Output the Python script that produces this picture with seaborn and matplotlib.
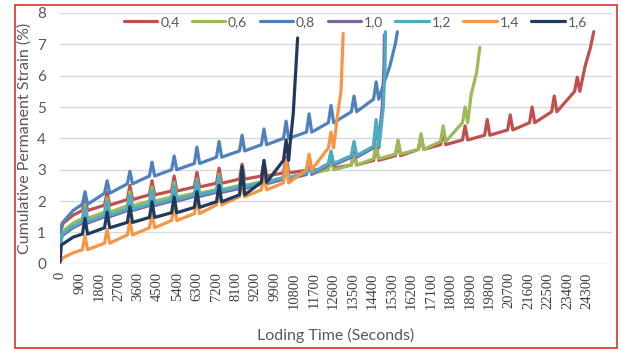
import numpy as np
import pandas as pd
import matplotlib
matplotlib.use("Agg")
import matplotlib.pyplot as plt
import seaborn as sns
from matplotlib.patches import Rectangle

# spike (load pulse) times in seconds
spike_t = [1150, 2170, 3220, 4240, 5260, 6310, 7330, 8390, 9400, 10420, 11480, 12490,
           13550, 14570, 15580, 16640, 17660, 18670, 19690, 20750, 21760, 22780, 23840]

labels = ["0,4", "0,6", "0,8", "1,0", "1,2", "1,4", "1,6"]
colors = ["#C0504D", "#9BBB59", "#4F81BD", "#8064A2", "#4BACC6", "#F79646", "#203A5E"]

# ---- 0.4 ----
s04_start = [(0, 1.0), (150, 1.3), (600, 1.55)]
s04_base = [1.7, 1.87, 2.05, 2.2, 2.32, 2.45, 2.57, 2.7, 2.8, 2.9, 2.98, 3.05, 3.15, 3.3,
            3.45, 3.65, 3.8, 3.95, 4.1, 4.27, 4.5, 4.85, 5.5]
s04_peak = [2.1, 2.28, 2.5, 2.65, 2.8, 2.92, 3.05, 3.18, 3.25, 3.4, 3.4, 3.5, 3.6, 3.75,
            3.9, 4.1, 4.25, 4.4, 4.6, 4.75, 5.0, 5.35, 5.95]
s04_end = [(24200, 6.3), (24450, 6.9), (24600, 7.4)]

# ---- 0.6 ----
s06_start = [(0, 0.75), (150, 1.05), (600, 1.3)]
s06_base = [1.45, 1.65, 1.85, 2.0, 2.13, 2.25, 2.37, 2.5, 2.62, 2.75, 2.88, 3.0, 3.15, 3.35,
            3.5, 3.65, 3.9, 4.5]
s06_peak = [1.9, 2.1, 2.3, 2.45, 2.6, 2.7, 2.85, 2.95, 3.05, 3.2, 3.3, 3.45, 3.6, 3.8,
            3.95, 4.15, 4.4, 5.0]
s06_end = [(18950, 5.4), (19200, 6.1), (19350, 6.9)]

# ---- 0.8 ----
s08_start = [(0, 1.0), (100, 1.3), (600, 1.7)]
s08_base = [1.9, 2.25, 2.55, 2.8, 3.0, 3.2, 3.4, 3.6, 3.8, 4.0, 4.2, 4.5, 4.85, 5.25]
s08_peak = [2.3, 2.65, 2.95, 3.24, 3.44, 3.72, 3.9, 4.1, 4.3, 4.55, 4.78, 5.05, 5.35, 5.8]
s08_end = [(14900, 5.7), (15200, 6.3), (15450, 7.0), (15550, 7.4)]

# ---- 1.0 ----
s10_start = [(0, 0.55), (100, 0.9), (600, 1.15)]
s10_base = [1.3, 1.5, 1.7, 1.86, 2.0, 2.15, 2.28, 2.4, 2.55, 2.7, 2.85, 3.15, 3.4, 3.7]
s10_peak = [1.75, 1.95, 2.15, 2.3, 2.45, 2.6, 2.72, 2.85, 3.0, 3.15, 3.3, 3.55, 3.85, 4.5]
s10_end = [(14700, 4.0), (14850, 5.0), (14930, 6.3), (14950, 7.3)]

# ---- 1.2 ----
s12_start = [(0, 0.6), (100, 0.95), (600, 1.2)]
s12_base = [1.35, 1.55, 1.75, 1.9, 2.05, 2.2, 2.33, 2.45, 2.6, 2.75, 2.9, 3.2, 3.45, 3.75]
s12_peak = [1.8, 2.0, 2.2, 2.35, 2.5, 2.65, 2.78, 2.9, 3.05, 3.2, 3.35, 3.6, 3.9, 4.6]
s12_end = [(14750, 4.0), (14900, 5.0), (14980, 6.3), (15000, 7.4)]

# ---- 1.4 ----
s14_start = [(0, 0.08), (150, 0.2), (600, 0.35)]
s14_base = [0.45, 0.66, 0.92, 1.15, 1.38, 1.6, 1.88, 2.14, 2.36, 2.58, 3.0, 3.7]
s14_peak = [0.9, 1.1, 1.35, 1.6, 1.85, 2.05, 2.3, 2.55, 2.8, 3.3, 3.5, 4.2]
s14_end = [(12800, 4.8), (12950, 5.5), (13050, 7.35)]

# ---- 1.6 ----
s16_start = [(0, 0.05), (60, 0.6), (600, 0.85)]
s16_base = [0.95, 1.15, 1.32, 1.48, 1.63, 1.8, 1.98, 2.2, 2.6, 3.3]
s16_peak = [1.45, 1.65, 1.82, 1.98, 2.13, 2.3, 2.5, 3.1, 3.3, 3.95]
s16_end = [(10600, 3.8), (10750, 4.8), (10850, 6.0), (10950, 7.2)]

series = [
    (s04_start, s04_base, s04_peak, s04_end),
    (s06_start, s06_base, s06_peak, s06_end),
    (s08_start, s08_base, s08_peak, s08_end),
    (s10_start, s10_base, s10_peak, s10_end),
    (s12_start, s12_base, s12_peak, s12_end),
    (s14_start, s14_base, s14_peak, s14_end),
    (s16_start, s16_base, s16_peak, s16_end),
]

x_ticks = [0, 900, 1800, 2700, 3600, 4500, 5400, 6300, 7200, 8100, 9000, 9900, 10800,
           11700, 12600, 13500, 14400, 15300, 16200, 17100, 18000, 18900, 19800, 20700,
           21600, 22500, 23400, 24300]
x_tick_labels = ["0", "900", "1800", "2700", "3600", "4500", "5400", "6300", "7200", "8100",
                 "9200", "9900", "10800", "11700", "12600", "13500", "14400", "15300",
                 "16200", "17100", "18000", "18900", "19800", "20700", "21600", "22500",
                 "23400", "24300"]

rows = []
for lab, (start, base, peak, end) in zip(labels, series):
    pts = list(start)
    for t, b, p in zip(spike_t, base, peak):
        pts += [(t - 120, b), (t, p), (t + 120, b)]
    pts += end
    for order, (t, v) in enumerate(pts):
        rows.append({"series": lab, "order": order, "time": t, "strain": v})
df = pd.DataFrame(rows)

sns.set_style("white")
plt.rcParams['font.family'] = ['Lato', 'DejaVu Sans']

fig = plt.figure(figsize=(6.19, 3.49), dpi=100)
ax = fig.add_axes([0.097, 0.244, 0.892, 0.719])

sns.lineplot(data=df, x="time", y="strain", hue="series", palette=colors,
             hue_order=labels, sort=False, estimator=None, units="series",
             linewidth=2.3, ax=ax)

ax.set_xlim(0, 25450)
ax.set_ylim(0, 8)
ax.set_yticks(range(0, 9))
ax.yaxis.grid(True, color="#D9D9D9", linewidth=1)
ax.xaxis.grid(False)
ax.set_axisbelow(True)
for sp in ax.spines.values():
    sp.set_visible(False)

ax.set_xticks(x_ticks)
ax.set_xticklabels(x_tick_labels, rotation=90, family="Liberation Serif",
                   fontsize=10.5, color="#404040")
ax.tick_params(axis="y", labelsize=11, colors="#595959", length=0, pad=10)
ax.tick_params(axis="x", length=0, pad=6)

ax.set_xlabel("Loding Time (Seconds)", fontsize=11.5, color="#595959", labelpad=14)
ax.set_ylabel("Cumulative Permanent Strain (%)", fontsize=11.5, color="#595959", labelpad=4)

ax.legend(loc="center", bbox_to_anchor=(0.535, 0.965), ncol=7, frameon=False,
          fontsize=10, handlelength=2.4, columnspacing=0.9, handletextpad=0.2,
          labelcolor="#595959")

fig.patches.append(Rectangle((15 / 619, 1 / 349), 602 / 619, 343 / 349,
                             transform=fig.transFigure, fill=False,
                             edgecolor="#E03030", linewidth=1.2))

fig.savefig("out.png", dpi=100)
